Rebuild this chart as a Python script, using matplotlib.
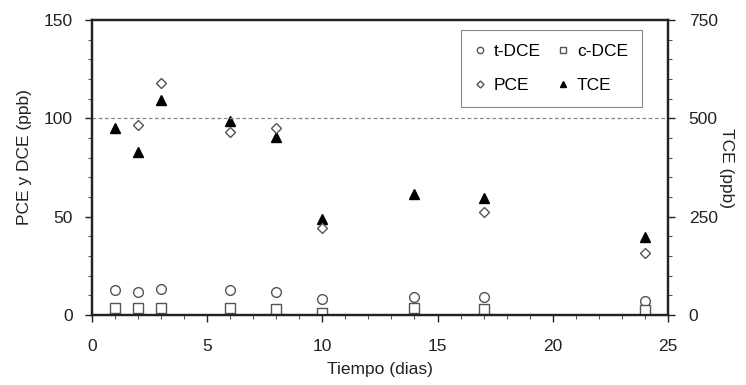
import matplotlib
matplotlib.use("Agg")
import matplotlib.pyplot as plt
from matplotlib.ticker import MultipleLocator

plt.rcParams['font.family'] = ['Liberation Sans', 'DejaVu Sans']

# datos
dias = [1, 2, 3, 6, 8, 10, 14, 17, 24]
t_dce = [12.5, 11.5, 13, 12.5, 11.5, 8, 9, 9, 7]
c_dce = [3.7, 3.5, 3.7, 3.7, 3.0, 0.9, 3.4, 3.0, 2.5]
pce_dias = [2, 3, 6, 8, 10, 17, 24]
pce = [96.5, 118, 93, 95, 44.5, 52.5, 31.5]
tce = [476, 415, 548, 494, 452, 243, 308, 297, 198]

fig = plt.figure(figsize=(7.46, 3.85), dpi=100)
ax = fig.add_axes([0.1233, 0.1818, 0.772, 0.766])
ax2 = ax.twinx()

gris = '#555555'
txt = '#222222'
l1, = ax.plot(dias, t_dce, 'o', ms=7, mfc='white', mec=gris, mew=1.0, label='t-DCE')
l2, = ax.plot(dias, c_dce, 's', ms=6.5, mfc='white', mec=gris, mew=1.0, label='c-DCE')
l3, = ax.plot(pce_dias, pce, 'D', ms=5.5, mfc='white', mec=gris, mew=1.0, label='PCE')
l4, = ax2.plot(dias, tce, '^', ms=7.5, color='black', label='TCE')

ax.axhline(100, color='#888888', ls=(0, (3, 2)), lw=0.9, zorder=0)

ax.set_xlim(0, 25)
ax.set_ylim(0, 150)
ax2.set_ylim(0, 750)
ax.xaxis.set_major_locator(MultipleLocator(5))
ax.xaxis.set_minor_locator(MultipleLocator(1))
ax.yaxis.set_major_locator(MultipleLocator(50))
ax.yaxis.set_minor_locator(MultipleLocator(10))
ax2.yaxis.set_major_locator(MultipleLocator(250))
ax2.yaxis.set_minor_locator(MultipleLocator(50))

for a in (ax, ax2):
    a.tick_params(which='major', direction='out', length=5, width=1.0, labelsize=12.5,
                  colors=txt, pad=9)
    a.tick_params(which='minor', direction='out', length=3, width=0.8, color=gris)
    for s in a.spines.values():
        s.set_linewidth(1.6)
        s.set_color(txt)
ax.tick_params(axis='x', which='major', pad=12)
ax2.tick_params(axis='y', which='major', pad=10)

ax.set_xlabel('Tiempo (dias)', fontsize=12.5, labelpad=6, color=txt)
ax.set_ylabel('PCE y DCE (ppb)', fontsize=12.5, labelpad=8, color=txt)
ax.yaxis.label.set_y(0.535)
ax2.set_ylabel('TCE (ppb)', fontsize=12.5, rotation=270, labelpad=12, color=txt)

leg = ax.legend([l1, l3, l2, l4], ['t-DCE', 'PCE', 'c-DCE', 'TCE'], ncol=2,
                loc='upper right', bbox_to_anchor=(0.955, 0.966), fontsize=12.5,
                handlelength=0.6, handletextpad=0.5, columnspacing=1.0,
                borderpad=0.8, labelspacing=1.1, fancybox=False, framealpha=1,
                markerscale=0.65, borderaxespad=0)
leg.get_frame().set_edgecolor('#888888')
leg.get_frame().set_linewidth(0.8)
ax.set_zorder(ax2.get_zorder() + 1)
ax.patch.set_visible(False)

fig.savefig('out.png', dpi=100)
